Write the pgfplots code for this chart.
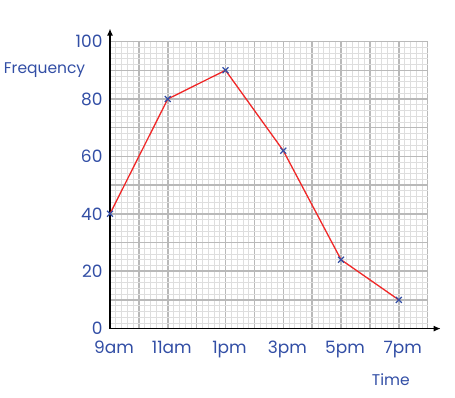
\documentclass[border=0pt]{standalone}
\usepackage{pgfplots}
\pgfplotsset{compat=1.18}
\usepackage{fontspec}
\setmainfont{Poppins}
\usetikzlibrary{arrows.meta}
\definecolor{txtblue}{RGB}{50,78,165}
\definecolor{majgrid}{RGB}{185,185,185}
\definecolor{mingrid}{RGB}{222,222,222}
\definecolor{lred}{RGB}{240,40,40}
\begin{document}
\begin{tikzpicture}[x=1pt,y=1pt]
\useasboundingbox (0,0) rectangle (455,397);
\begin{axis}[
  at={(110pt,68.4pt)}, anchor=south west,
  scale only axis, width=317.7pt, height=287pt,
  xmin=9, xmax=20, ymin=0, ymax=100,
  axis lines=left,
  axis line style={black, line width=1.2pt, -{Latex[length=7pt,width=6pt]}, shorten >=-13pt},
  xtick={9,...,20}, xticklabels={9am,,11am,,1pm,,3pm,,5pm,,7pm,},
  ytick={0,10,...,100}, yticklabels={0,,20,,40,,60,,80,,100},
  minor x tick num=4, minor y tick num=4,
  major tick length=0pt, minor tick length=0pt,
  grid=both,
  major grid style={majgrid, line width=1.5pt},
  minor grid style={mingrid, line width=0.7pt},
  tick label style={font=\fontsize{17}{19}\selectfont, text=txtblue},
  xticklabel style={xshift=4pt, yshift=-9pt},
  yticklabel style={xshift=-4pt},
  xlabel={Time}, ylabel={Frequency},
  label style={font=\fontsize{15.5}{18}\selectfont, text=txtblue},
  xlabel style={at={(axis description cs:0.884,-0.179)}, anchor=center},
  ylabel style={rotate=-90, at={(axis description cs:-0.206,0.901)}, anchor=center},
  clip=false,
]
\addplot[lred, line width=1.3pt, mark=x, mark size=4.2pt, mark options={txtblue, line width=1.2pt}]
  coordinates {(9,40) (11,80) (13,90) (15,62) (17,24) (19,10)};
\end{axis}
\end{tikzpicture}
\end{document}
